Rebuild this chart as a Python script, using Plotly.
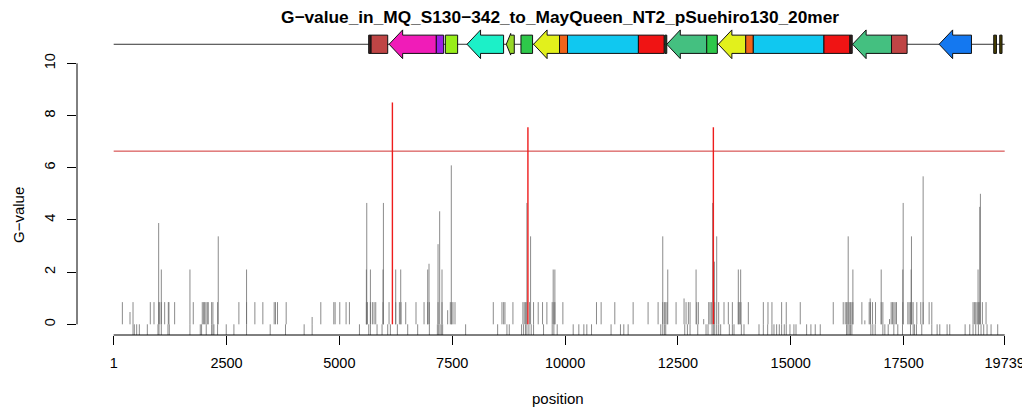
import plotly.graph_objects as go

# ---------------- data ----------------
TITLE = "G−value_in_MQ_S130−342_to_MayQueen_NT2_pSuehiro130_20mer"
X_TICKS = [1, 2500, 5000, 7500, 10000, 12500, 15000, 17500, 19739]
Y_TICKS = [0, 2, 4, 6, 8, 10]
THRESHOLD = 6.635

# G-value spikes grouped by their (shared) height
pos_g085 = [193, 429, 812, 894, 997, 1019, 1056, 1130, 1211, 1225, 1351, 1764, 1963, 1993, 2015, 2044,
            2074, 2096, 2170, 2199, 2302, 2774, 2944, 3128, 3305, 3556, 3585, 3630, 3822, 4589,
            4877, 4906, 5009, 5149, 5223, 5599, 5622, 5688, 5732, 5769, 5806, 5968, 6101, 6248, 6330,
            6366, 6470, 6698, 6876, 6957, 6994, 7186, 7274, 7458, 7488, 7517, 7562, 8410, 8602, 8639,
            8668, 8845, 9066, 9096, 9125, 9155, 9214, 9302, 9405, 9501, 9597,
            9715, 9752, 9774, 9951, 10696, 10799, 11102, 11508, 11839, 12061, 12164, 12201, 12230,
            12260, 12459, 12680, 12732, 12769, 12916, 12953, 13182, 13211, 13241, 13315, 13403, 13521,
            13617, 13706, 13838, 13868, 13897, 14060, 14392, 14495, 14583,
            14797, 14900, 15210, 15941, 16162, 16206, 16236, 16265, 16295, 16324, 16354, 16376, 16575,
            16737, 16767, 16811, 16877, 17003, 17040, 17224, 17253, 17283, 17312, 17342, 17482, 17593,
            17622, 17652, 17681, 17711, 17792, 17880, 17932, 18065, 18124, 19038, 19068, 19097, 19127,
            19156, 19186, 19245, 19326]
pos_g210 = [1056, 1690, 2944, 5599, 5688, 5968, 6248, 6359, 6957, 7274, 9737, 9774, 12275, 12902,
            13838, 13890, 16376, 17003, 17482, 17667, 19149]
pos_g337 = [2317, 9236, 12164, 13359, 16272, 17674]
pos_g465 = [5607, 5976, 9155, 13270, 17490]
pos_neg = [429, 458, 510, 569, 746, 982, 1004, 1056, 1203, 1233, 1690, 1919, 1948, 2051, 2170, 2199,
           2221, 2302, 2494, 2664, 2944, 3468, 3807, 4220, 4397,
           5445, 5651, 5688, 5835, 5946, 6071, 6130, 6285, 6514, 6735, 6994, 7171, 7200, 7229, 7259,
           7288, 7797, 8506, 8712, 8764, 9037, 9081, 9125, 9155, 9199, 9250, 9302, 9523,
           9715, 9752, 9826, 10180, 10305, 10416, 10482, 10586, 11019, 11227, 11301, 11397, 12120,
           12164, 12201, 12230, 12651, 12710, 12769, 12939, 13123, 13167, 13256, 13285, 13315, 13359,
           13403, 13447, 13639, 13706, 13743, 13905, 13964, 14296, 14392, 14488, 14583,
           14628, 14687, 14746, 14797, 14856, 14900, 14982, 15070, 15116, 15351, 15446, 15542, 15653,
           16236, 16265, 16295, 16324, 16354, 16774, 16818, 16870, 17040, 17084, 17158, 17283, 17371,
           17475, 17652, 17711, 17740, 17784, 17902, 18124, 18242, 18301, 18463, 18522, 18862, 18965,
           19038, 19097, 19156, 19215, 19274, 19348, 19437, 19584]
G_LEVELS = {"g085": 0.85, "g210": 2.1, "g337": 3.37, "g465": 4.65, "neg": -0.45}

# individual spikes with their own heights
other_pos = [997, 7186, 6986, 7222, 7480, 13307, 17932, 19201, 19186, 362, 4397, 7399, 12636, 13071,
             16759, 16641, 17187]
other_g = [3.88, 3.07, 2.32, 4.33, 6.09, 2.4, 5.67, 5.0, 4.5, 0.47, 0.28, 0.54, 0.99, 0.2,
           0.99, 0.15, 0.2]

# spikes above the threshold (drawn in red)
sig_pos = [6175, 9177, 13285]
sig_g = [8.5, 7.55, 7.55]

# gene map features
feat_start = [5650, 5703, 6102, 7148, 7348, 7828, 8698, 9023, 9302, 9877, 10054, 11625, 12209,
              12253, 13138, 13395, 14002, 14170, 15735, 16310, 16369, 17232, 18286, 19496, 19629]
feat_end = [5703, 6071, 7148, 7310, 7620, 8638, 8875, 9280, 9877, 10054, 11625, 12194, 12253,
            13138, 13373, 14002, 14170, 15735, 16310, 16361, 17232, 17577, 19003, 19556, 19680]
feat_arrow = [False, False, True, False, False, True, True, False, True, False, False, False, False,
              True, False, True, False, False, False, False, True, False, True, False, False]
feat_color = ["#3b2020", "#BF4545", "#F01CB8", "#9A20E6", "#98EE1A", "#1CF0C8", "#98D828",
              "#2EC84A", "#E2F01C", "#F0641A", "#10C8F0", "#F01414", "#1f4a2a", "#44C080",
              "#2EC84A", "#E2F01C", "#F0641A", "#10C8F0", "#F01414", "#3b2020", "#44C080",
              "#BF4545", "#1478F0", "#4a4000", "#4a4000"]

# ---------------- styling constants ----------------
FONT = "Liberation Sans, Arial, Helvetica, sans-serif"
GENE_Y = 10.73
BODY_HALF = 0.35
HEAD_HALF = 0.55
HEAD_LEN = 300

fig = go.Figure()


def spikes(xs, ys):
    X, Y = [], []
    for x, y in zip(xs, ys):
        X += [x, x, None]
        Y += [0, y, None]
    return X, Y


all_x, all_y = [], []
for name, lst in [("g085", pos_g085), ("g210", pos_g210), ("g337", pos_g337),
                  ("g465", pos_g465), ("neg", pos_neg)]:
    all_x += lst
    all_y += [G_LEVELS[name]] * len(lst)
all_x += other_pos
all_y += other_g

sx, sy = spikes(all_x, all_y)
fig.add_trace(go.Scatter(x=sx, y=sy, mode="lines", line=dict(color="rgba(110,110,110,0.8)", width=1),
                         hoverinfo="skip", showlegend=False))

# threshold
fig.add_trace(go.Scatter(x=[X_TICKS[0], X_TICKS[-1]], y=[THRESHOLD, THRESHOLD], mode="lines",
                         line=dict(color="#D03232", width=1), hoverinfo="skip", showlegend=False))

# significant spikes
rx, ry = spikes(sig_pos, sig_g)
fig.add_trace(go.Scatter(x=rx, y=ry, mode="lines", line=dict(color="#EE1C1C", width=1.4),
                         hoverinfo="skip", showlegend=False))

# gene map backbone
fig.add_trace(go.Scatter(x=[X_TICKS[0], X_TICKS[-1]], y=[GENE_Y, GENE_Y], mode="lines",
                         line=dict(color="#333333", width=1), hoverinfo="skip", showlegend=False))

for s, e, arr, col in zip(feat_start, feat_end, feat_arrow, feat_color):
    if arr:
        h = min(HEAD_LEN, 0.55 * (e - s))
        ext = BODY_HALF + (HEAD_HALF - BODY_HALF) * (h / HEAD_LEN)
        xs = [s, s + h, s + h, e, e, s + h, s + h, s]
        ys = [GENE_Y, GENE_Y + ext, GENE_Y + BODY_HALF, GENE_Y + BODY_HALF, GENE_Y - BODY_HALF,
              GENE_Y - BODY_HALF, GENE_Y - ext, GENE_Y]
    else:
        xs = [s, e, e, s, s]
        ys = [GENE_Y + BODY_HALF, GENE_Y + BODY_HALF, GENE_Y - BODY_HALF, GENE_Y - BODY_HALF,
              GENE_Y + BODY_HALF]
    fig.add_trace(go.Scatter(x=xs, y=ys, mode="lines", fill="toself", fillcolor=col,
                             line=dict(color="#111111", width=1), hoverinfo="skip", showlegend=False))

# page body adds an 8 px offset; the figure is laid out to compensate
OFF = 8
W, H = 1030 - OFF, 410 - OFF
ML, MB = 77 - OFF, 75
fig.update_layout(
    width=W, height=H,
    margin=dict(l=ML, r=0, t=0, b=MB, pad=0),
    paper_bgcolor="white", plot_bgcolor="white",
    font=dict(family=FONT, size=14.5, color="black"),
    title=dict(text="<b>" + TITLE + "</b>", x=(560 - OFF) / W, y=1 - (17 - OFF) / H,
               xref="container", yref="container", xanchor="center", yanchor="middle",
               font=dict(size=17.3, family=FONT, color="black")),
    xaxis=dict(range=[-812, 20299.5], tickvals=X_TICKS, ticktext=[str(v) for v in X_TICKS],
               ticks="outside", ticklen=9, tickwidth=1, tickcolor="black", showline=False,
               showgrid=False, zeroline=False, ticklabelstandoff=6, tickfont=dict(size=14.5)),
    yaxis=dict(range=[-0.41, 12.12], tickvals=Y_TICKS, ticks="outside", ticklen=9, tickwidth=1,
               tickcolor="black", showline=False, showgrid=False, zeroline=False, tickangle=-90,
               ticklabelstandoff=6, tickfont=dict(size=14.5)),
    shapes=[
        dict(type="line", xref="paper", x0=0, x1=0, yref="y", y0=Y_TICKS[0], y1=Y_TICKS[-1],
             line=dict(color="black", width=1)),
        dict(type="line", xref="x", x0=X_TICKS[0], x1=X_TICKS[-1], yref="paper", y0=0, y1=0,
             line=dict(color="black", width=1)),
    ],
    annotations=[
        dict(text="position", xref="paper", yref="paper", x=(558 - 77) / (W - ML), y=0,
             yshift=-63, xanchor="center", yanchor="middle", showarrow=False,
             font=dict(size=15, family=FONT)),
        dict(text="G−value", xref="paper", yref="paper", x=0, xshift=18 - 77,
             y=(335 - 215) / (H - MB), xanchor="center", yanchor="middle", textangle=-90,
             showarrow=False, font=dict(size=15, family=FONT)),
    ],
)

fig.write_html("out.html")
